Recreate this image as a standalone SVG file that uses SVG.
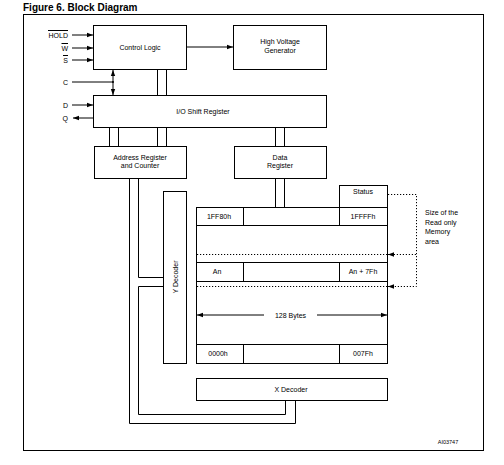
<svg xmlns="http://www.w3.org/2000/svg" width="504" height="465" viewBox="0 0 504 465">
<style>
.box{fill:#fff;stroke:#000;stroke-width:1}
.ln{fill:none;stroke:#000;stroke-width:1}
.dot{fill:none;stroke:#000;stroke-width:1;stroke-dasharray:1.2,1.8}
text{font-family:"Liberation Sans",Arial,sans-serif;font-size:7px;fill:#000}
.c{text-anchor:middle}
.r{text-anchor:end}
.title{font-size:10px;font-weight:bold}
</style>
<defs>
<marker id="ah" viewBox="0 0 6 6" refX="6" refY="3" markerWidth="6" markerHeight="6" markerUnits="userSpaceOnUse" orient="auto">
<path d="M0,0.8 L6,3 L0,5.2 Z" fill="#000"/>
</marker>
</defs>
<rect width="504" height="465" fill="#fff"/>
<text class="title" x="23" y="11">Figure 6. Block Diagram</text>
<rect class="ln" x="23.5" y="14.5" width="460" height="436"/>

<g id="labels">
<text class="r" x="68" y="37.5">HOLD</text>
<line class="ln" x1="48" y1="30.5" x2="68" y2="30.5" stroke-width="0.7"/>
<text class="r" x="68" y="50.5">W</text>
<line class="ln" x1="61.5" y1="43.5" x2="68" y2="43.5" stroke-width="0.7"/>
<text class="r" x="68" y="62.5">S</text>
<line class="ln" x1="63" y1="55.5" x2="68" y2="55.5" stroke-width="0.7"/>
<text class="r" x="68" y="84.5">C</text>
<text class="r" x="68" y="107.5">D</text>
<text class="r" x="68" y="120.5">Q</text>
</g>

<g id="control-logic">
<rect class="box" x="93.5" y="25.5" width="93" height="44"/>
<text class="c" x="140" y="49.5">Control Logic</text>
</g>
<g id="high-voltage-generator">
<rect class="box" x="233.5" y="25.5" width="93" height="44"/>
<text class="c" x="280" y="44">High Voltage</text>
<text class="c" x="280" y="52.5">Generator</text>
</g>
<g id="io-shift-register">
<rect class="box" x="93.5" y="95.5" width="233" height="32"/>
<text class="c" x="203" y="113.5">I/O Shift Register</text>
</g>
<g id="address-register">
<rect class="box" x="94.5" y="146.5" width="92" height="32"/>
<text class="c" x="140" y="159.5">Address Register</text>
<text class="c" x="140" y="168">and Counter</text>
</g>
<g id="data-register">
<rect class="box" x="234.5" y="146.5" width="92" height="32"/>
<text class="c" x="280" y="159.5">Data</text>
<text class="c" x="280" y="168">Register</text>
</g>
<g id="y-decoder">
<rect class="box" x="163.5" y="191.5" width="23" height="172"/>
<text class="c" transform="translate(177.5,277) rotate(-90)">Y Decoder</text>
</g>
<g id="memory-array">
<rect class="box" x="339.5" y="185.5" width="48" height="22"/>
<text class="c" x="363" y="193.5">Status</text>
<rect class="box" x="196.5" y="207.5" width="191" height="156"/>
<path class="ln" d="M196.5,225.5 H387.5 M243.5,207.5 V225.5 M339.5,207.5 V225.5"/>
<text class="c" x="219" y="218.5">1FF80h</text>
<text class="c" x="363" y="218.5">1FFFFh</text>
<path class="ln" d="M196.5,262.5 H387.5 M196.5,281.5 H387.5 M243.5,262.5 V281.5 M339.5,262.5 V281.5"/>
<text class="c" x="217" y="274">An</text>
<text class="c" x="363" y="274">An + 7Fh</text>
<text class="c" x="290.5" y="317.5">128 Bytes</text>
<path class="ln" d="M196.5,344.5 H387.5 M243.5,344.5 V363.5 M339.5,344.5 V363.5"/>
<text class="c" x="218" y="356">0000h</text>
<text class="c" x="363" y="356">007Fh</text>
</g>
<g id="read-only-note">
<text x="425" y="215">Size of the</text>
<text x="425" y="224.5">Read only</text>
<text x="425" y="234">Memory</text>
<text x="425" y="243.5">area</text>
</g>
<g id="x-decoder">
<rect class="box" x="196.5" y="378.5" width="191" height="22"/>
<text class="c" x="291" y="391.5">X Decoder</text>
</g>
<text class="c" x="448" y="444" style="font-size:5.5px">AI03747</text>

<g id="connectors">
<line class="ln" x1="72" y1="35" x2="93" y2="35" marker-end="url(#ah)"/>
<line class="ln" x1="72" y1="48" x2="93" y2="48" marker-end="url(#ah)"/>
<line class="ln" x1="72" y1="60" x2="93" y2="60" marker-end="url(#ah)"/>
<line class="ln" x1="72" y1="82" x2="113" y2="82"/>
<circle cx="113" cy="82" r="1" fill="#000"/>
<line class="ln" x1="113" y1="76" x2="113" y2="70" marker-end="url(#ah)"/>
<line class="ln" x1="113" y1="88" x2="113" y2="95" marker-end="url(#ah)"/>
<line class="ln" x1="113" y1="76" x2="113" y2="88"/>
<line class="ln" x1="72" y1="105" x2="93" y2="105" marker-end="url(#ah)"/>
<line class="ln" x1="93" y1="118" x2="73" y2="118" marker-end="url(#ah)"/>
<line class="ln" x1="186" y1="47" x2="233" y2="47" marker-end="url(#ah)"/>
<path class="ln" d="M157.5,70 V95 M166.5,70 V95"/>
<path class="ln" d="M109.5,128 V146 M118.5,128 V146"/>
<path class="ln" d="M157.5,128 V146 M166.5,128 V146"/>
<path class="ln" d="M275.5,128 V146 M284.5,128 V146"/>
<path class="ln" d="M275.5,179 V207 M284.5,179 V207"/>
<path class="ln" d="M138.5,179 V277.5 H163"/>
<path class="ln" d="M163,286.5 H138.5 V414.5 H285.5 V401"/>
<path class="ln" d="M129.5,179 V423.5 H295.5 V401"/>
<path class="dot" d="M388,194.5 H416.5 V286.5 H392"/>
<line class="dot" x1="416" y1="254.5" x2="392" y2="254.5"/>
<line class="ln" x1="393" y1="254.5" x2="388" y2="254.5" marker-end="url(#ah)"/>
<line class="ln" x1="393" y1="286.5" x2="388" y2="286.5" marker-end="url(#ah)"/>
<line class="dot" x1="197" y1="254.5" x2="387" y2="254.5"/>
<line class="dot" x1="197" y1="286.5" x2="387" y2="286.5"/>
<line class="ln" x1="264" y1="315" x2="197" y2="315" marker-end="url(#ah)"/>
<line class="ln" x1="317" y1="315" x2="387" y2="315" marker-end="url(#ah)"/>
</g>
</svg>
